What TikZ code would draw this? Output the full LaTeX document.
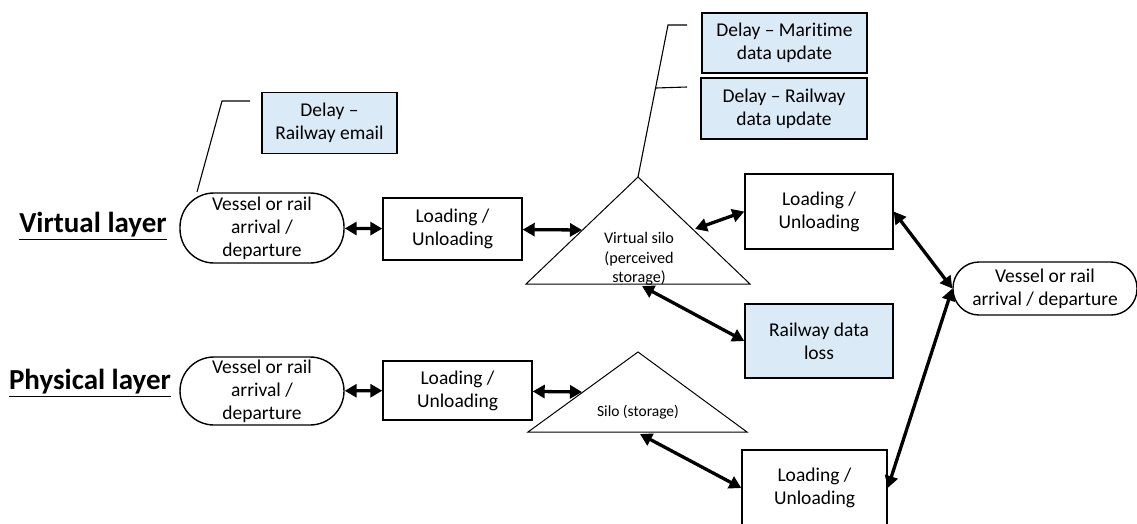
\documentclass[tikz,border=0pt]{standalone}
\usepackage{fontspec}
\setmainfont{Carlito}[Ligatures=NoCommon]
\usetikzlibrary{arrows.meta}
\definecolor{delayblue}{RGB}{218,234,247}
\tikzset{
  pill/.style={draw, line width=1.4pt, rounded corners=34pt, align=center, font=\fontsize{19.5}{22.8}\selectfont, inner sep=0pt},
  stagebox/.style={draw, line width=1.4pt, align=center, font=\fontsize{19.5}{22.8}\selectfont, inner sep=0pt},
  delaybox/.style={stagebox, fill=delayblue},
  flow/.style={{Triangle[length=12pt,width=13pt]}-{Triangle[length=12pt,width=13pt]}, line width=3.3pt},
  layerlabel/.style={font=\fontsize{29}{33}\selectfont\bfseries},
}
\begin{document}
\begin{tikzpicture}[x=1pt,y=-1pt]
        \useasboundingbox (0,0) rectangle (1137,523);
        \clip (0,0) rectangle (1137,523);
        % Layers
        \node[layerlabel] (virtual) at (93,226) {\underline{Virtual layer}};
        \node[layerlabel] (physical) at (90,383) {\underline{Physical layer}};
        % Virtual layer
        \node[pill, minimum width=164pt, minimum height=70pt] (vesselV) at (262,228) {Vessel or rail\\arrival /\\departure};
        \node[stagebox, minimum width=139pt, minimum height=62pt] (loadV) at (452.5,229) {Loading /\\Unloading};
        \draw[line width=1pt] (638,177) -- (750,284) -- (526,284) -- cycle;
        \node[align=center, font=\fontsize{16.2}{19.5}\selectfont] (vsilo) at (639,259) {Virtual silo\\(perceived\\storage)};
        \coordinate (vsiloL) at (582,230);
        \coordinate (vsiloR) at (695,229);
        \coordinate (vsiloB) at (642,286);
        \node[stagebox, minimum width=148pt, minimum height=75pt] (loadR) at (819,211.5) {Loading /\\Unloading};
        \node[pill, rounded corners=26pt, minimum width=184pt, minimum height=53pt] (vesselR) at (1045,288.5) {Vessel or rail\\arrival / departure};
        % Delays
        \node[delaybox, minimum width=135pt, minimum height=61pt] (email) at (329.5,123) {Delay --\\Railway email};
        \node[delaybox, minimum width=165pt, minimum height=60pt] (maritime) at (784.5,43) {Delay -- Maritime\\data update};
        \node[delaybox, minimum width=166pt, minimum height=61pt] (railway) at (784,108.5) {Delay -- Railway\\data update};
        \node[delaybox, minimum width=148pt, minimum height=74pt] (dataloss) at (819,341) {Railway data\\loss};
        \draw[line width=1.1pt] (197,192) -- (222,101) -- (250,101);
        \draw[line width=1.1pt] (638,177) -- (668,25) -- (687,25);
        \draw[line width=1.1pt] (656,88) -- (687,87);
        % Physical layer
        \node[pill, minimum width=164pt, minimum height=68pt] (vesselP) at (262,391) {Vessel or rail\\arrival /\\departure};
        \node[stagebox, minimum width=149pt, minimum height=59pt] (loadP) at (457.5,390.5) {Loading /\\Unloading};
        \draw[line width=1pt] (638,352) -- (747,432) -- (528,432) -- cycle;
        \node[font=\fontsize{15.5}{19.5}\selectfont] (silo) at (638,412) {Silo (storage)};
        \coordinate (siloL) at (582,392);
        \coordinate (siloB) at (640,434);
        \node[stagebox, minimum width=145pt, minimum height=76pt] (loadB) at (814.5,488) {Loading /\\Unloading};
        % Arrows
        \draw[flow] (vesselV) -- (loadV);
        \draw[flow] (loadV) -- (vsiloL);
        \draw[flow] (vsiloR) -- (loadR.west);
        \draw[flow] (vsiloB) -- (dataloss.west);
        \draw[flow] (loadR.east) -- (vesselR.west);
        \draw[flow] (vesselR.west) -- (loadB.east);
        \draw[flow] (vesselP) -- (loadP);
        \draw[flow] (loadP) -- (siloL);
        \draw[flow] (siloB) -- (loadB.west);
\end{tikzpicture}
\end{document}
